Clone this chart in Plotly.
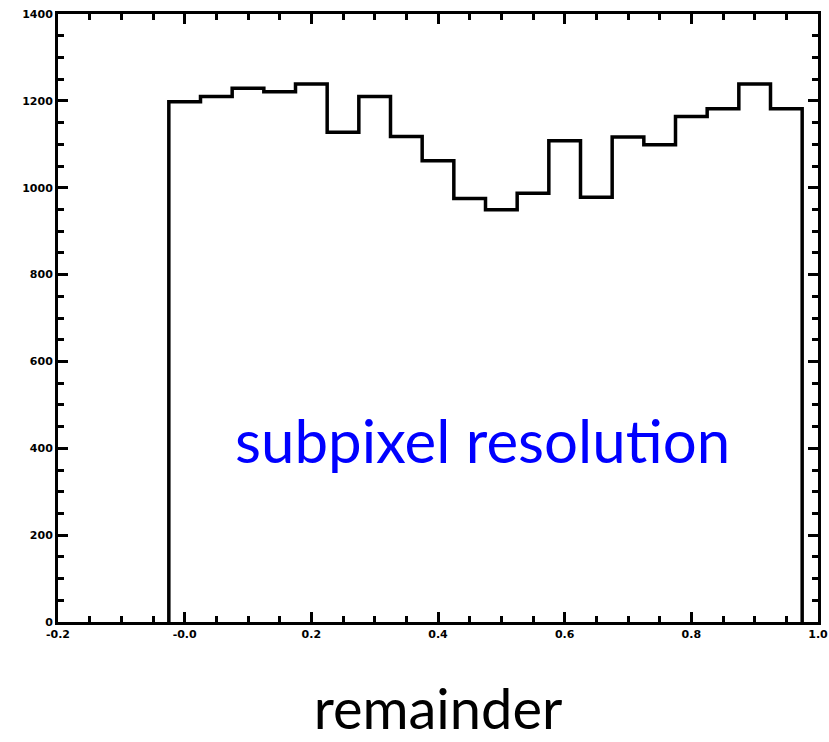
import plotly.graph_objects as go

# Data: histogram of the remainder (bin centres and counts)
bin_centers = [0.00, 0.05, 0.10, 0.15, 0.20, 0.25, 0.30, 0.35, 0.40, 0.45,
               0.50, 0.55, 0.60, 0.65, 0.70, 0.75, 0.80, 0.85, 0.90, 0.95]
counts = [1198, 1210, 1229, 1221, 1239, 1128, 1210, 1118, 1062, 975,
          949, 987, 1108, 978, 1117, 1099, 1164, 1182, 1239, 1182]
bin_width = 0.05

x_ticks = [-0.2, 0.0, 0.2, 0.4, 0.6, 0.8, 1.0]
x_ticklabels = ["-0.2", "-0.0", "0.2", "0.4", "0.6", "0.8", "1.0"]
y_ticks = [0, 200, 400, 600, 800, 1000, 1200, 1400]
y_ticklabels = ["0", "200", "400", "600", "800", "1000", "1200", "1400"]

# Step outline built from the bins
left_edges = [c - bin_width / 2 for c in bin_centers]
xs = [left_edges[0]] + left_edges + [bin_centers[-1] + bin_width / 2]
ys = [0] + counts + [0]

fig = go.Figure()
fig.add_trace(go.Scatter(
    x=xs, y=ys, mode="lines", line=dict(shape="hv", color="black", width=3.5),
    showlegend=False, hoverinfo="skip"))

tickfont = dict(family="DejaVu Sans", size=11, color="black", weight="bold")
common = dict(showline=True, linewidth=3, linecolor="black", mirror="ticks",
              ticks="inside", ticklen=10, tickwidth=3, tickcolor="black",
              showgrid=False, zeroline=False, tickfont=tickfont, automargin=False)

fig.update_xaxes(range=[-0.2, 1.0], tickvals=x_ticks, ticktext=x_ticklabels,
                 minor=dict(ticks="inside", dtick=0.05, tick0=0, ticklen=6,
                            tickwidth=3, tickcolor="black"),
                 title=dict(text="remainder", font=dict(family="Lato", size=56, color="black"),
                            standoff=50),
                 **common)
fig.update_yaxes(range=[0, 1400], tickvals=y_ticks, ticktext=y_ticklabels,
                 minor=dict(ticks="inside", dtick=50, tick0=0, ticklen=6,
                            tickwidth=3, tickcolor="black"),
                 **common)

fig.add_annotation(x=0.471, y=420, xref="x", yref="y",
                   text="subpixel resolu<span style='color:#0000fe'>t</span>ion",
                   showarrow=False, font=dict(family="Lato", size=60, color="#0000ff"),
                   xanchor="center", yanchor="middle")

fig.update_layout(width=829, height=742, margin=dict(l=58, r=11, t=14, b=120),
                  plot_bgcolor="white", paper_bgcolor="white")

fig.write_html("out.html")
